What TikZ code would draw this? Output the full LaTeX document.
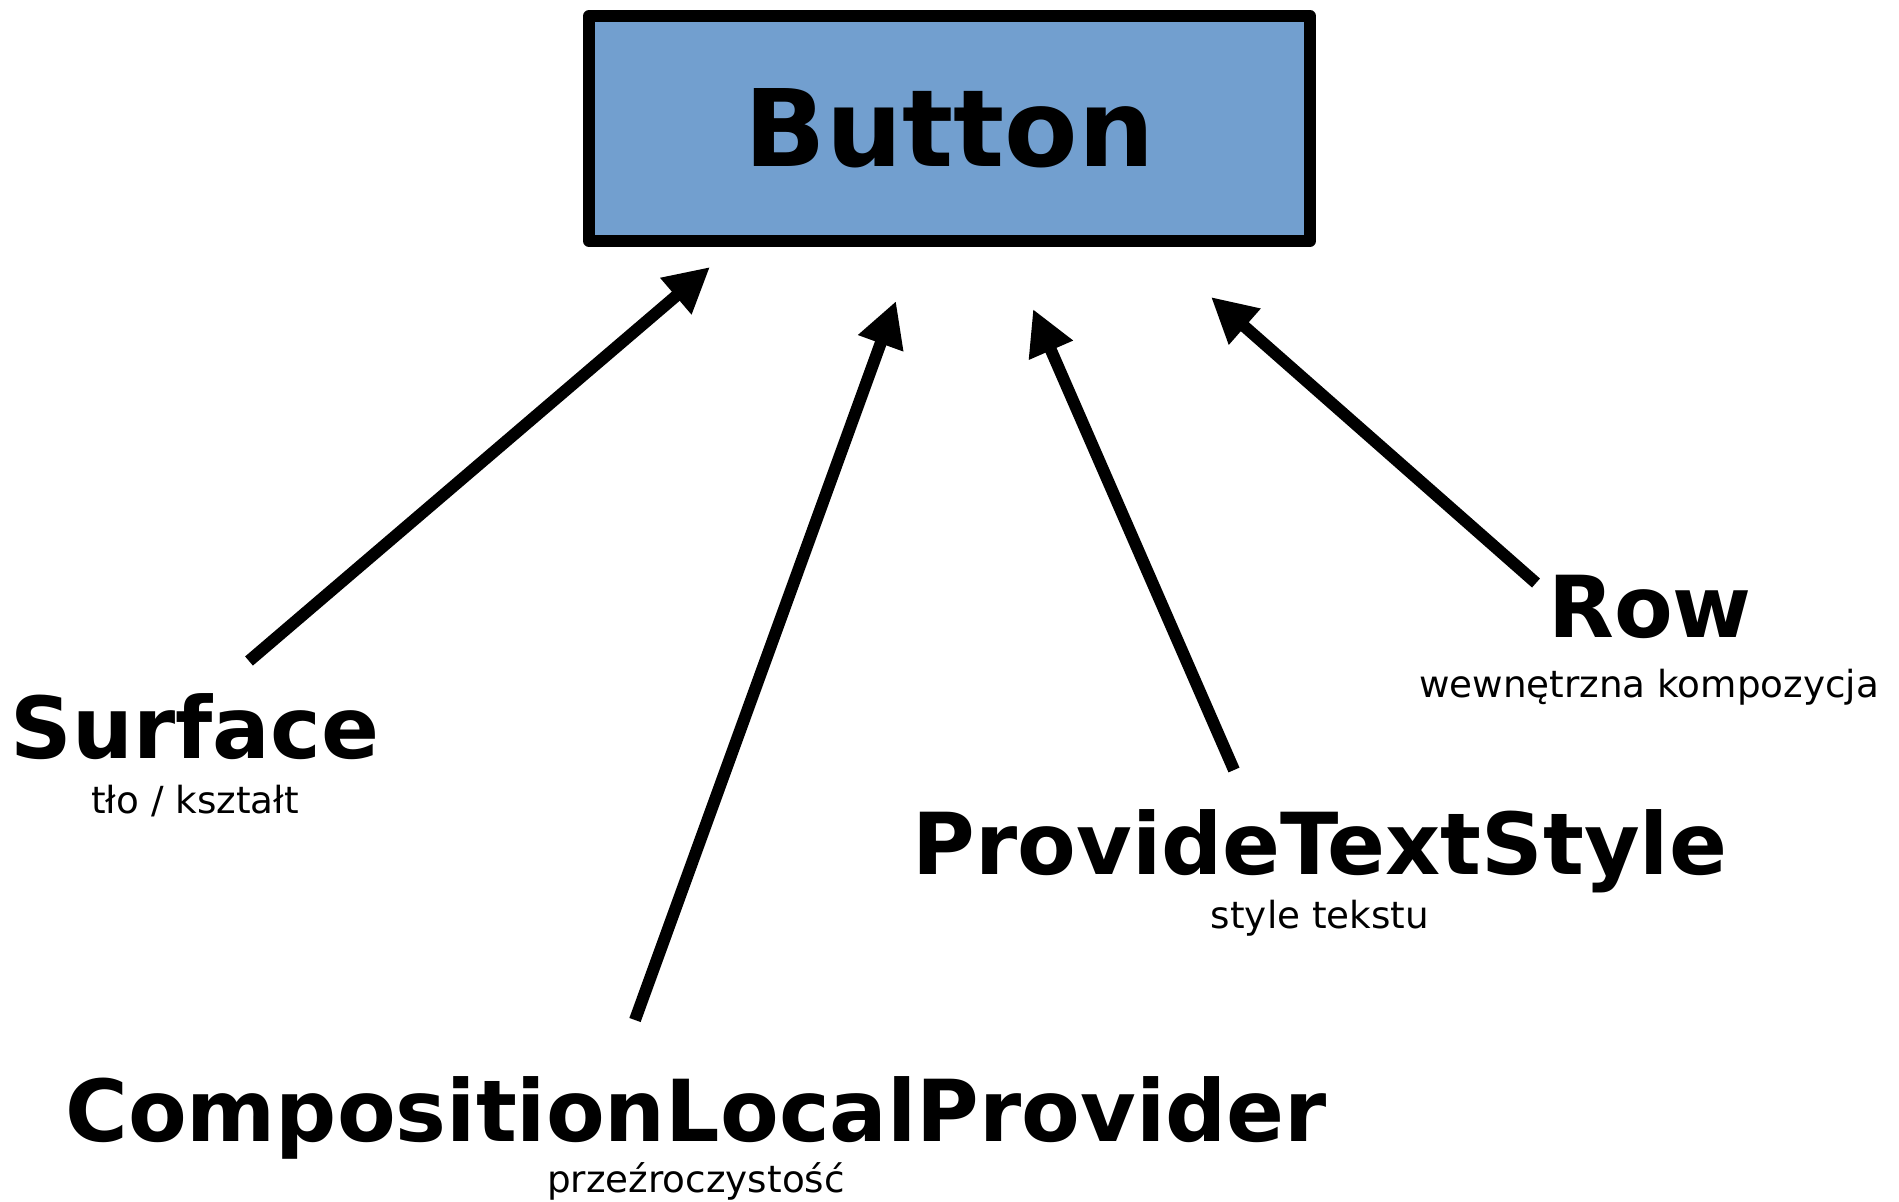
\documentclass[tikz,border=0pt]{standalone}
\usepackage{fontspec}
\setmainfont{DejaVu Sans}
\usetikzlibrary{arrows.meta}
\definecolor{btnblue}{HTML}{729FCF}

\begin{document}
\begin{tikzpicture}[x=1pt,y=-1pt,
    big/.style={inner sep=0pt,anchor=base,font=\fontsize{85.5}{85.5}\selectfont\bfseries},
    small/.style={inner sep=0pt,anchor=base,font=\fontsize{37.3}{37.3}\selectfont},
    arr/.style={line width=12pt,-{Triangle[length=45pt,width=45pt]}}]
  \useasboundingbox (0,0) rectangle (1899,1202);

  % the button box
  \node[draw,line width=12pt,line join=round,fill=btnblue,minimum width=721pt,minimum height=225pt,
        font=\fontsize{107}{107}\selectfont\bfseries] (button) at (949.5,128.5) {Button};

  % labels
  \node[big] (surface) at (195,758) {Surface};
  \node[small] (surfacesub) at (195,813) {tło / kształt};
  \node[big] (clp) at (696,1141) {CompositionLocalProvider};
  \node[small] (clpsub) at (696,1192) {przeźroczystość};
  \node[big] (pts) at (1320,874) {ProvideTextStyle};
  \node[small] (ptssub) at (1320,928) {style tekstu};
  \node[big] (row) at (1650,637) {Row};
  \node[small] (rowsub) at (1649,697) {wewnętrzna kompozycja};

  % arrow ends
  \coordinate (surfacetail) at (249,661);
  \coordinate (surfacetip) at (710,267);
  \coordinate (clptail) at (635,1020);
  \coordinate (clptip) at (896,301);
  \coordinate (ptstail) at (1234,770);
  \coordinate (ptstip) at (1033,309);
  \coordinate (rowtail) at (1536,583);
  \coordinate (rowtip) at (1211,297);

  \draw[arr] (surfacetail) -- (surfacetip);
  \draw[arr] (clptail) -- (clptip);
  \draw[arr] (ptstail) -- (ptstip);
  \draw[arr] (rowtail) -- (rowtip);
\end{tikzpicture}
\end{document}
